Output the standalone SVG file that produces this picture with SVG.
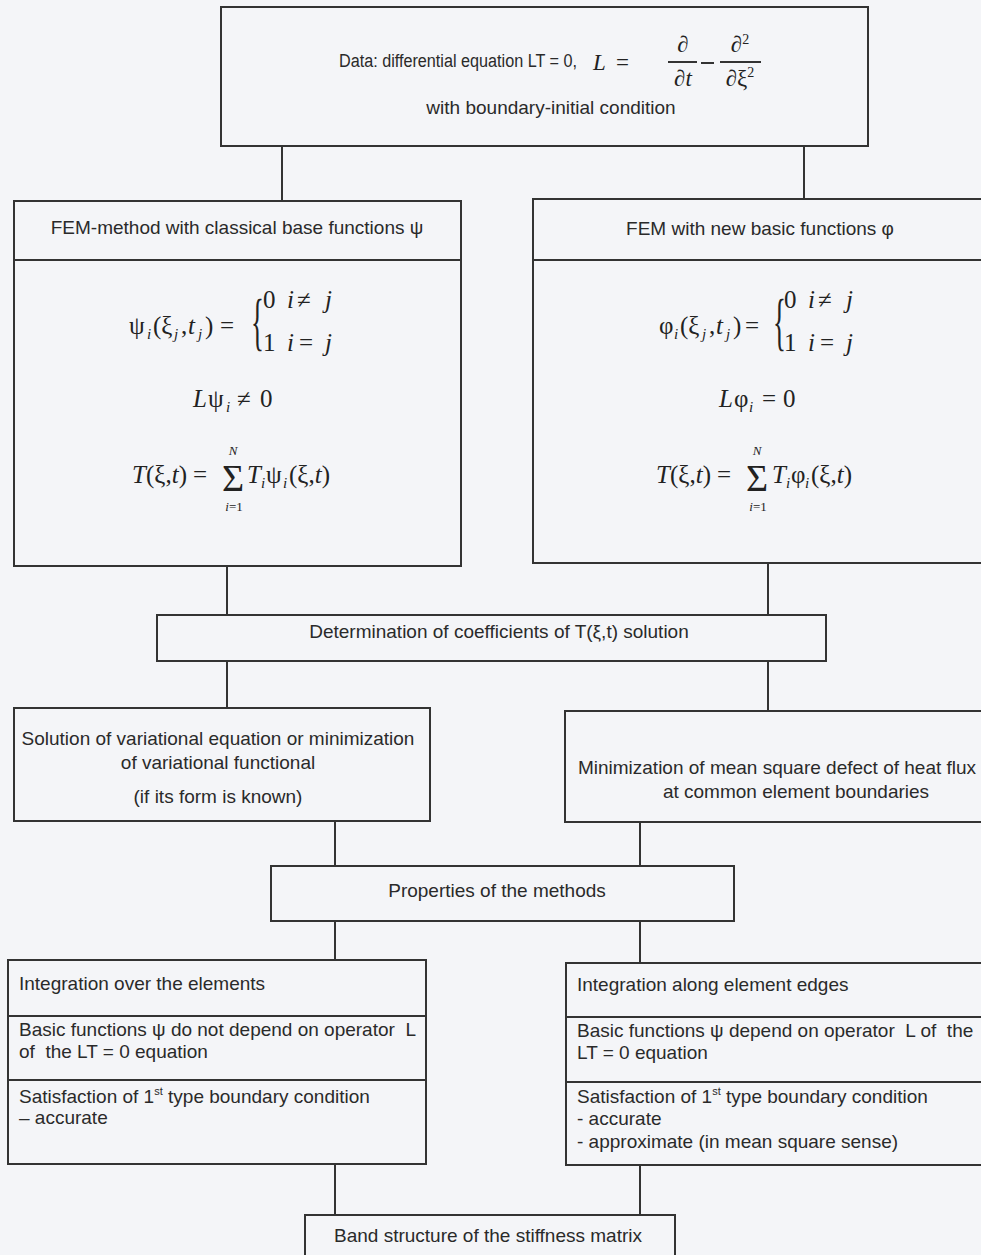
<svg xmlns="http://www.w3.org/2000/svg" width="981" height="1255" viewBox="0 0 981 1255">
<style>
.box{fill:none;stroke:#333;stroke-width:2}
.ln{stroke:#333;stroke-width:2;fill:none}
.t{font-family:"Liberation Sans",Arial,sans-serif;font-size:19px;fill:#2a2a2a}
.m{font-family:"Liberation Serif","Times New Roman",serif;font-size:25px;fill:#222}
.i{font-style:italic}
.s{font-size:15px;font-style:italic}
.sup{font-size:11px}
.br{font-family:"Liberation Serif","Times New Roman",serif;font-size:64px;fill:#222}
.sig{font-family:"Liberation Serif","Times New Roman",serif;font-size:38px;fill:#222}
.lim{font-family:"Liberation Serif","Times New Roman",serif;font-size:13px;font-style:italic;fill:#222}
</style>
<rect x="0" y="0" width="981" height="1255" fill="#f4f5f8"/>
<g id="connectors">
<path class="ln" d="M282 146V201M804 146V199M227 566V615M768 563V615M227 661V708M768 661V711M335 821V866M640 822V866M335 921V960M640 921V963M335 1164V1215M640 1165V1215"/>
</g>
<g id="n-data">
<rect class="box" x="221" y="7" width="647" height="139"/>
<text class="t" x="339" y="67" style="font-size:18px" textLength="238" lengthAdjust="spacingAndGlyphs">Data: differential equation LT = 0,</text>
<text class="m i" x="593" y="70" style="font-size:23px">L</text>
<text class="m" x="616" y="70" style="font-size:23px">=</text>
<text class="m" x="683" y="52" text-anchor="middle" style="font-size:23px">∂</text>
<line class="ln" x1="668" y1="62" x2="697" y2="62" stroke-width="1.5"/>
<text class="m" x="683" y="86" text-anchor="middle" style="font-size:23px">∂<tspan class="i">t</tspan></text>
<line class="ln" x1="701" y1="63" x2="714" y2="63" stroke-width="1.5"/>
<text class="m" x="740" y="52" text-anchor="middle" style="font-size:23px">∂<tspan font-size="14" dy="-8">2</tspan></text>
<line class="ln" x1="720" y1="62" x2="761" y2="62" stroke-width="1.5"/>
<text class="m" x="740" y="86" text-anchor="middle" style="font-size:23px">∂ξ<tspan font-size="14" dy="-9">2</tspan></text>
<text class="t" x="551" y="114" text-anchor="middle">with boundary-initial condition</text>
</g>
<g id="n-fem-classic">
<rect class="box" x="14" y="201" width="447" height="365"/>
<line class="ln" x1="14" y1="260" x2="461" y2="260"/>
<text class="t" x="237" y="234" text-anchor="middle">FEM-method with classical base functions ψ</text>
<text class="m"><tspan x="129" y="334">ψ</tspan><tspan class="s" x="147" y="339">i</tspan><tspan x="153" y="334">(ξ</tspan><tspan class="s" x="174" y="339">j</tspan><tspan x="181" y="334">,</tspan><tspan class="i" x="188" y="334">t</tspan><tspan class="s" x="198" y="339">j</tspan><tspan x="205" y="334">)</tspan><tspan x="220" y="334">=</tspan></text>
<text class="br" transform="translate(251,343) scale(0.42,1)">{</text>
<text class="m"><tspan x="263" y="308">0</tspan><tspan class="i" x="287" y="308">i</tspan><tspan x="297" y="308">≠</tspan><tspan class="i" x="325" y="308">j</tspan></text>
<text class="m"><tspan x="263" y="351">1</tspan><tspan class="i" x="287" y="351">i</tspan><tspan x="299" y="351">=</tspan><tspan class="i" x="325" y="351">j</tspan></text>
<text class="m"><tspan class="i" x="193" y="407">L</tspan><tspan x="208" y="407">ψ</tspan><tspan class="s" x="226" y="412">i</tspan><tspan x="237" y="407">≠</tspan><tspan x="260" y="407">0</tspan></text>
<text class="m"><tspan class="i" x="132" y="483">T</tspan><tspan x="146" y="483">(ξ,</tspan><tspan class="i">t</tspan><tspan>)</tspan><tspan x="193" y="483">=</tspan></text>
<text class="sig" x="222" y="491">Σ</text>
<text class="lim" x="233" y="455" text-anchor="middle">N</text>
<text class="lim" x="234" y="511" text-anchor="middle">i<tspan font-style="normal">=1</tspan></text>
<text class="m"><tspan class="i" x="247" y="483">T</tspan><tspan class="s" x="261" y="488">i</tspan><tspan x="266" y="483">ψ</tspan><tspan class="s" x="283" y="488">i</tspan><tspan x="289" y="483">(ξ,</tspan><tspan class="i">t</tspan><tspan>)</tspan></text>
</g>
<g id="n-fem-new">
<rect class="box" x="533" y="199" width="460" height="364"/>
<line class="ln" x1="533" y1="260" x2="993" y2="260"/>
<text class="t" x="760" y="235" text-anchor="middle">FEM with new basic functions φ</text>
<text class="m"><tspan x="659" y="334">φ</tspan><tspan class="s" x="674" y="339">i</tspan><tspan x="680" y="334">(ξ</tspan><tspan class="s" x="702" y="339">j</tspan><tspan x="709" y="334">,</tspan><tspan class="i" x="716" y="334">t</tspan><tspan class="s" x="726" y="339">j</tspan><tspan x="733" y="334">)</tspan><tspan x="745" y="334">=</tspan></text>
<text class="br" transform="translate(773,343) scale(0.42,1)">{</text>
<text class="m"><tspan x="784" y="308">0</tspan><tspan class="i" x="808" y="308">i</tspan><tspan x="818" y="308">≠</tspan><tspan class="i" x="846" y="308">j</tspan></text>
<text class="m"><tspan x="784" y="351">1</tspan><tspan class="i" x="808" y="351">i</tspan><tspan x="820" y="351">=</tspan><tspan class="i" x="846" y="351">j</tspan></text>
<text class="m"><tspan class="i" x="719" y="407">L</tspan><tspan x="734" y="407">φ</tspan><tspan class="s" x="749" y="412">i</tspan><tspan x="762" y="407">=</tspan><tspan x="783" y="407">0</tspan></text>
<text class="m"><tspan class="i" x="656" y="483">T</tspan><tspan x="670" y="483">(ξ,</tspan><tspan class="i">t</tspan><tspan>)</tspan><tspan x="717" y="483">=</tspan></text>
<text class="sig" x="746" y="491">Σ</text>
<text class="lim" x="757" y="455" text-anchor="middle">N</text>
<text class="lim" x="758" y="511" text-anchor="middle">i<tspan font-style="normal">=1</tspan></text>
<text class="m"><tspan class="i" x="772" y="483">T</tspan><tspan class="s" x="786" y="488">i</tspan><tspan x="791" y="483">φ</tspan><tspan class="s" x="805" y="488">i</tspan><tspan x="811" y="483">(ξ,</tspan><tspan class="i">t</tspan><tspan>)</tspan></text>
</g>
<g id="n-determination">
<rect class="box" x="157" y="615" width="669" height="46"/>
<text class="t" x="499" y="638" text-anchor="middle">Determination of coefficients of T(ξ,t) solution</text>
</g>
<g id="n-solution">
<rect class="box" x="14" y="708" width="416" height="113"/>
<text class="t" x="218" y="745" text-anchor="middle">Solution of variational equation or minimization</text>
<text class="t" x="218" y="769" text-anchor="middle">of variational functional</text>
<text class="t" x="218" y="803" text-anchor="middle">(if its form is known)</text>
</g>
<g id="n-minimization">
<rect class="box" x="565" y="711" width="428" height="111"/>
<text class="t" x="777" y="774" text-anchor="middle">Minimization of mean square defect of heat flux</text>
<text class="t" x="796" y="798" text-anchor="middle">at common element boundaries</text>
</g>
<g id="n-properties">
<rect class="box" x="271" y="866" width="463" height="55"/>
<text class="t" x="497" y="897" text-anchor="middle">Properties of the methods</text>
</g>
<g id="n-props-classic">
<rect class="box" x="8" y="960" width="418" height="204"/>
<line class="ln" x1="8" y1="1016" x2="426" y2="1016"/>
<line class="ln" x1="8" y1="1080" x2="426" y2="1080"/>
<text class="t" x="19" y="990">Integration over the elements</text>
<text class="t" x="19" y="1036">Basic functions ψ do not depend on operator &#160;L</text>
<text class="t" x="19" y="1058">of &#160;the LT = 0 equation</text>
<text class="t" x="19" y="1103">Satisfaction of 1<tspan class="sup" dy="-8">st</tspan><tspan dy="8"> type boundary condition</tspan></text>
<text class="t" x="19" y="1124">– accurate</text>
</g>
<g id="n-props-new">
<rect class="box" x="566" y="963" width="427" height="202"/>
<line class="ln" x1="566" y1="1017" x2="993" y2="1017"/>
<line class="ln" x1="566" y1="1082" x2="993" y2="1082"/>
<text class="t" x="577" y="991">Integration along element edges</text>
<text class="t" x="577" y="1037">Basic functions ψ depend on operator &#160;L of &#160;the</text>
<text class="t" x="577" y="1059">LT = 0 equation</text>
<text class="t" x="577" y="1103">Satisfaction of 1<tspan class="sup" dy="-8">st</tspan><tspan dy="8"> type boundary condition</tspan></text>
<text class="t" x="577" y="1125">- accurate</text>
<text class="t" x="577" y="1148">- approximate (in mean square sense)</text>
</g>
<g id="n-band">
<rect class="box" x="305" y="1215" width="370" height="60"/>
<text class="t" x="488" y="1242" text-anchor="middle">Band structure of the stiffness matrix</text>
</g>
</svg>
